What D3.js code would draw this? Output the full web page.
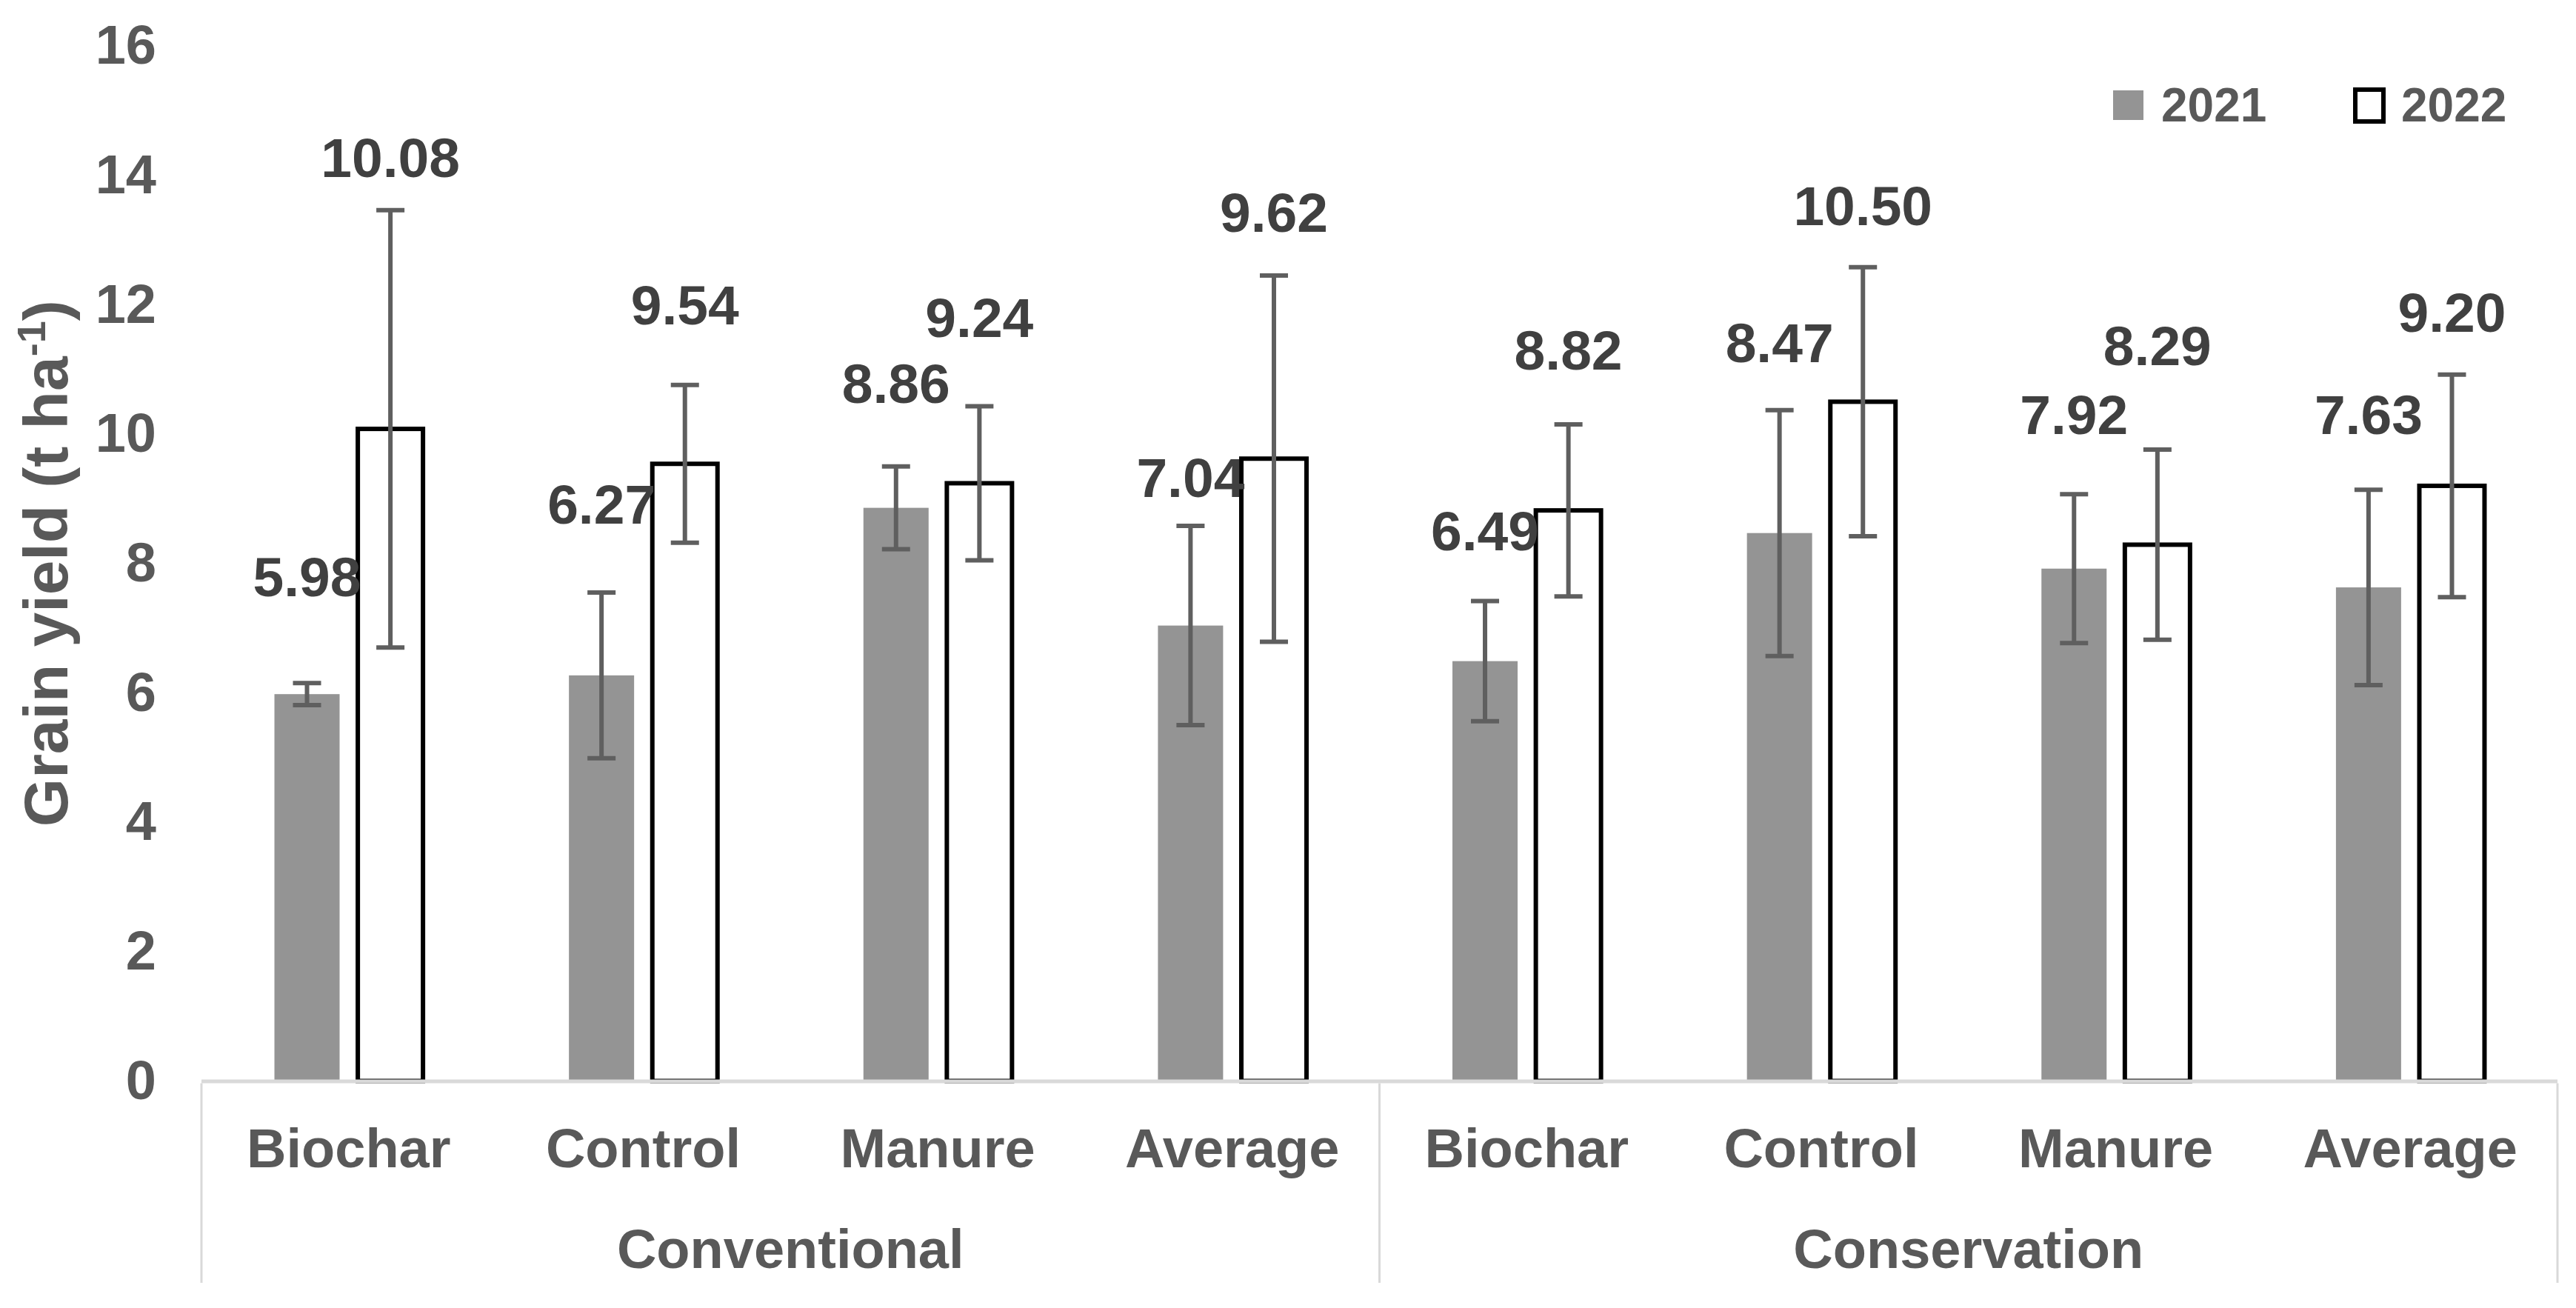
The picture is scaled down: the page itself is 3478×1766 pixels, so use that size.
<!DOCTYPE html>
<html>
<head>
<meta charset="utf-8">
<script src="https://cdn.jsdelivr.net/npm/d3@7"></script>
<style>
  body { margin: 0; background: #ffffff; }
  text { font-family: "Liberation Sans", Arial, sans-serif; font-weight: bold; }
</style>
</head>
<body>
<div id="chart"></div>
<script>
// grain yield, two tillage systems x four treatments, two seasons
var groups = ["Conventional", "Conservation"];
var treatments = ["Biochar", "Control", "Manure", "Average"];
var years = ["2021", "2022"];

var yield2021 = [5.98, 6.27, 8.86, 7.04, 6.49, 8.47, 7.92, 7.63];
var yield2022 = [10.08, 9.54, 9.24, 9.62, 8.82, 10.50, 8.29, 9.20];

// error bar half-widths
var err2021 = [0.17, 1.28, 0.64, 1.54, 0.93, 1.90, 1.15, 1.51];
var err2022 = [3.38, 1.22, 1.19, 2.83, 1.33, 2.08, 1.47, 1.72];

// height (t ha-1) where each value label was put by hand
var labelAt2021 = [7.49, 8.61, 10.48, 9.03, 8.20, 11.11, 10.00, 10.00];
var labelAt2022 = [13.97, 11.69, 11.50, 13.13, 11.00, 13.23, 11.07, 11.58];

var yTicks = [0, 2, 4, 6, 8, 10, 12, 14, 16];

function makeChart(divId) {
    var width = 3478, height = 1766;
    var left = 272, right = 3453, top = 62, bottom = 1459.5;

    // one key per bar pair, since treatment names repeat in both groups
    var keys = [];
    groups.forEach(function (g) {
        treatments.forEach(function (t) { keys.push(g + "|" + t); });
    });

    var rows = keys.map(function (k, i) {
        return {
            key: k,
            values: [
                {year: years[0], v: yield2021[i], e: err2021[i], at: labelAt2021[i]},
                {year: years[1], v: yield2022[i], e: err2022[i], at: labelAt2022[i]}
            ]
        };
    });

    var x0 = d3.scaleBand().domain(keys).range([left, right]).padding(0);
    var x1 = d3.scaleBand().domain(years).range([0, x0.bandwidth()])
        .paddingInner(0.2185).paddingOuter(0.875);
    var xg = d3.scaleBand().domain(groups).range([left, right]).padding(0);

    var y = d3.scaleLinear().domain([0, 16]).range([bottom, top]);

    var svg = d3.select(divId).append("svg")
        .attr("width", width)
        .attr("height", height);

    svg.append("rect").attr("width", width).attr("height", height).attr("fill", "#ffffff");

    // y axis, labels only
    var yAxis = svg.append("g")
        .attr("transform", "translate(" + left + ",0)")
        .call(d3.axisLeft(y).tickValues(yTicks).tickSize(0).tickPadding(61));
    yAxis.select(".domain").remove();
    yAxis.selectAll("text")
        .attr("font-size", 74)
        .attr("fill", "#595959")
        .style("font-family", "'Liberation Sans', Arial, sans-serif")
        .style("font-weight", "bold");

    // y axis title
    var title = svg.append("text")
        .attr("transform", "translate(91," + ((top + bottom) / 2) + ") rotate(-90)")
        .attr("text-anchor", "middle")
        .attr("font-size", 84)
        .attr("fill", "#595959");
    title.append("tspan").text("Grain yield (t ha");
    title.append("tspan").attr("font-size", 54).attr("dy", -30).text("-1");
    title.append("tspan").attr("dy", 30).text(")");

    var pair = svg.selectAll(".pair")
        .data(rows)
        .enter()
        .append("g")
        .attr("class", "pair")
        .attr("transform", function (d) { return "translate(" + x0(d.key) + ",0)"; });

    pair.selectAll("rect")
        .data(function (d) { return d.values; })
        .enter()
        .append("rect")
        .attr("x", function (d) { return x1(d.year); })
        .attr("width", x1.bandwidth())
        .attr("y", function (d) { return y(d.v); })
        .attr("height", function (d) { return y(0) - y(d.v); })
        .attr("fill", function (d) { return d.year === "2021" ? "#949494" : "#ffffff"; })
        .attr("stroke", function (d) { return d.year === "2021" ? "none" : "#000000"; })
        .attr("stroke-width", 6);

    // category axis: base line and group dividers
    svg.append("line")
        .attr("x1", left).attr("x2", right)
        .attr("y1", y(0) + 0.5).attr("y2", y(0) + 0.5)
        .attr("stroke", "#d9d9d9")
        .attr("stroke-width", 5);

    var dividers = [left].concat(groups.map(function (g) { return xg(g) + xg.bandwidth(); }));
    svg.selectAll(".divider")
        .data(dividers)
        .enter()
        .append("line")
        .attr("class", "divider")
        .attr("x1", function (d) { return d; })
        .attr("x2", function (d) { return d; })
        .attr("y1", y(0) + 3)
        .attr("y2", 1732)
        .attr("stroke", "#d9d9d9")
        .attr("stroke-width", 3);

    var xAxis = svg.append("g")
        .attr("transform", "translate(0," + y(0) + ")")
        .call(d3.axisBottom(x0).tickSize(0).tickPadding(116).tickFormat(function (k) {
            return k.split("|")[1];
        }));
    xAxis.select(".domain").remove();
    xAxis.selectAll("text")
        .attr("dy", 0)
        .attr("font-size", 74)
        .attr("fill", "#595959")
        .style("font-family", "'Liberation Sans', Arial, sans-serif")
        .style("font-weight", "bold");

    svg.selectAll(".grouplabel")
        .data(groups)
        .enter()
        .append("text")
        .attr("class", "grouplabel")
        .attr("x", function (g) { return xg(g) + xg.bandwidth() / 2; })
        .attr("y", 1712)
        .attr("text-anchor", "middle")
        .attr("font-size", 74)
        .attr("fill", "#595959")
        .text(function (g) { return g; });

    // error bars
    var cap = 19;
    var eb = pair.selectAll(".err")
        .data(function (d) { return d.values; })
        .enter()
        .append("g")
        .attr("class", "err")
        .attr("stroke", "#5f5f5f")
        .attr("stroke-width", 6);
    eb.append("line")
        .attr("x1", function (d) { return x1(d.year) + x1.bandwidth() / 2; })
        .attr("x2", function (d) { return x1(d.year) + x1.bandwidth() / 2; })
        .attr("y1", function (d) { return y(d.v + d.e); })
        .attr("y2", function (d) { return y(d.v - d.e); });
    eb.append("line")
        .attr("x1", function (d) { return x1(d.year) + x1.bandwidth() / 2 - cap; })
        .attr("x2", function (d) { return x1(d.year) + x1.bandwidth() / 2 + cap; })
        .attr("y1", function (d) { return y(d.v + d.e); })
        .attr("y2", function (d) { return y(d.v + d.e); });
    eb.append("line")
        .attr("x1", function (d) { return x1(d.year) + x1.bandwidth() / 2 - cap; })
        .attr("x2", function (d) { return x1(d.year) + x1.bandwidth() / 2 + cap; })
        .attr("y1", function (d) { return y(d.v - d.e); })
        .attr("y2", function (d) { return y(d.v - d.e); });

    // value labels
    pair.selectAll(".val")
        .data(function (d) { return d.values; })
        .enter()
        .append("text")
        .attr("class", "val")
        .attr("x", function (d) { return x1(d.year) + x1.bandwidth() / 2; })
        .attr("y", function (d) { return y(d.at); })
        .attr("text-anchor", "middle")
        .attr("font-size", 75)
        .attr("fill", "#404040")
        .text(function (d) { return d3.format(".2f")(d.v); });

    // legend
    var legend = svg.append("g");
    legend.append("rect")
        .attr("x", 2853).attr("y", 122).attr("width", 41).attr("height", 40)
        .attr("fill", "#949494");
    legend.append("text")
        .attr("x", 2918).attr("y", 164)
        .attr("font-size", 64).attr("fill", "#595959")
        .text(years[0]);
    legend.append("rect")
        .attr("x", 3180).attr("y", 121).attr("width", 38).attr("height", 43)
        .attr("fill", "#ffffff").attr("stroke", "#000000").attr("stroke-width", 6);
    legend.append("text")
        .attr("x", 3242).attr("y", 164)
        .attr("font-size", 64).attr("fill", "#595959")
        .text(years[1]);
}

makeChart("#chart");
</script>
</body>
</html>
